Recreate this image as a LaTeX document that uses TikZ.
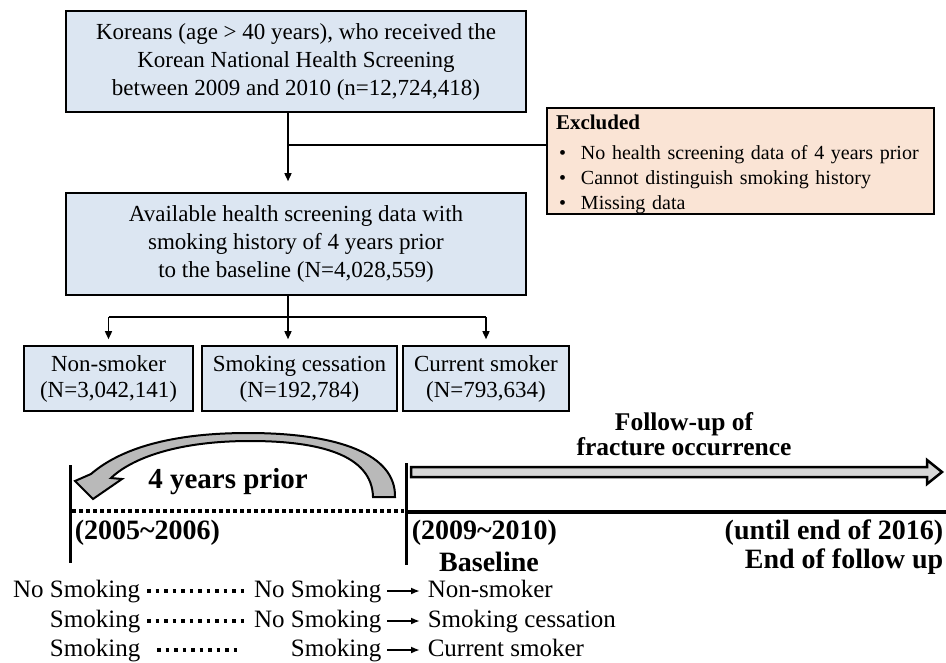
\documentclass[tikz,border=0pt]{standalone}
\usepackage{fontspec}
\setmainfont{Liberation Serif}
\usepackage{tikz}
\usetikzlibrary{arrows.meta, calc}
\definecolor{boxblue}{RGB}{220,230,242}
\definecolor{boxpink}{RGB}{250,228,213}
\definecolor{arcgray}{RGB}{185,185,185}
\definecolor{bandgray}{RGB}{215,215,215}

\begin{document}
\begin{tikzpicture}[x=1pt, y=-1pt, line width=1.5pt, inner sep=0pt,
    bluebox/.style={rectangle, draw, fill=boxblue, line width=1.6pt, align=center, font=\fontsize{23}{28}\selectfont},
    smallbox/.style={bluebox, minimum height=65pt, font=\fontsize{23}{26}\selectfont},
    tip/.style={-{Triangle[length=8pt,width=7pt]}},
    boldtext/.style={font=\fontsize{28}{28}\selectfont\bfseries},
    rowtext/.style={font=\fontsize{25}{30}\selectfont, text height=17pt, text depth=5pt},
    dotrow/.style={line width=3.5pt, dash pattern=on 3.5pt off 5pt},
    rowarrow/.style={line width=1.8pt, -{Latex[length=9pt,width=7pt]}, shorten <=5pt, shorten >=7pt}]
    \useasboundingbox (0,0) rectangle (946,662);

    % flow chart
    \node[bluebox, minimum width=460pt, minimum height=101pt] at (296,61.5) (top) {Koreans (age > 40 years), who received the\\Korean National Health Screening\\between 2009 and 2010 (n=12,724,418)};
    \node[rectangle, draw, fill=boxpink, line width=1.6pt, minimum height=104pt, text width=369pt, inner xsep=9pt, align=left, font=\fontsize{20}{25}\selectfont] at (740.5,161) (excl) {\rule{0pt}{22pt}{\fontsize{21}{25}\selectfont\bfseries Excluded}\\[5pt]
        \makebox[25pt][l]{\hspace{3pt}\textbullet}No health screening data of 4 years prior\\
        \makebox[25pt][l]{\hspace{3pt}\textbullet}Cannot distinguish smoking history\\
        \makebox[25pt][l]{\hspace{3pt}\textbullet}Missing data};
    \node[bluebox, minimum width=460pt, minimum height=102pt] at (296,244) (avail) {Available health screening data with\\smoking history of 4 years prior\\to the baseline (N=4,028,559)};
    \node[smallbox, minimum width=169pt] at (108.5,378.5) (nonsm) {Non-smoker\\(N=3,042,141)};
    \node[smallbox, minimum width=195pt] at (299.5,378.5) (cess) {Smoking cessation\\(N=192,784)};
    \node[smallbox, minimum width=166pt] at (486,378.5) (cursm) {Current smoker\\(N=793,634)};

    \coordinate (split) at (288,145);
    \draw[tip, shorten >=11pt] (top.south -| split) -- (avail.north -| split);
    \draw (split) -- (split -| excl.west);
    \draw (avail.south -| split) -- (288,317);
    \draw (nonsm.north |- 0,317) -- (cursm.north |- 0,317);
    \draw[tip, shorten >=6pt] (nonsm.north |- 0,317) -- (nonsm.north);
    \draw[tip, shorten >=6pt] (288,317) -- (cess.north -| 288,0);
    \draw[tip, shorten >=6pt] (cursm.north |- 0,317) -- (cursm.north);

    % time line
    \draw[line width=3pt] (70,465) -- (70,563);
    \draw[line width=3pt] (406,463) -- (406,565);
    \draw[line width=3.5pt, dash pattern=on 3.5pt off 3.5pt] (72,511) -- (404,511);
    \draw[line width=3.5pt] (406,512) -- (946,512);
    \draw[line width=2.5pt, fill=bandgray, line join=miter] (411,467) -- (927,467) -- (927,460) -- (942,472) -- (927,484) -- (927,477) -- (411,477) -- cycle;
    \draw[line width=2pt, fill=arcgray, line join=miter] (373,497) .. controls (372,455) and (320,441) .. (250,441) .. controls (178,441) and (132,458) .. (111,478) -- (122,479) -- (93,499) -- (75,481) -- (91,474) .. controls (120,449) and (170,433) .. (248,433) .. controls (340,433) and (396,455) .. (395,497) -- cycle;

    \node[boldtext, font=\fontsize{25.5}{25}\selectfont\bfseries, align=center] at (684,434.5) (follow) {Follow-up of\\fracture occurrence};
    \node[boldtext, font=\fontsize{29}{28}\selectfont\bfseries] at (228,482) (prior) {4 years prior};
    \node[boldtext, anchor=west] at (74,533) (yrold) {(2005\textasciitilde 2006)};
    \node[boldtext, anchor=west] at (411,533) (yrbase) {(2009\textasciitilde 2010)};
    \node[boldtext] at (489,562) (base) {Baseline};
    \node[boldtext, anchor=east] at (944,533) (yrend) {(until end of 2016)};
    \node[boldtext, anchor=east] at (944,562) (endfu) {End of follow up};

    % smoking status rows
    \node[rowtext, anchor=east] at (141,591) (ra) {No Smoking};
    \node[rowtext, anchor=east] at (382,591) (rb) {No Smoking};
    \node[rowtext, anchor=west] at (427,591) (rc) {Non-smoker};
    \node[rowtext, anchor=east] at (141,621) (sa) {Smoking};
    \node[rowtext, anchor=east] at (382,621) (sb) {No Smoking};
    \node[rowtext, anchor=west] at (427,621) (sc) {Smoking cessation};
    \node[rowtext, anchor=east] at (141,650) (ta) {Smoking};
    \node[rowtext, anchor=east] at (382,650) (tb) {Smoking};
    \node[rowtext, anchor=west] at (427,650) (tc) {Current smoker};

    \draw[dotrow] ($(ra.east)+(6,0)$) -- ($(rb.west)+(-6,0)$);
    \draw[dotrow] ($(sa.east)+(6,0)$) -- ($(sb.west)+(-6,0)$);
    \draw[dotrow] ($(ta.east)+(16,0)$) -- ++(84,0);
    \draw[rowarrow] (rb) -- (rc);
    \draw[rowarrow] (sb) -- (sc);
    \draw[rowarrow] (tb) -- (tc);
\end{tikzpicture}
\end{document}
